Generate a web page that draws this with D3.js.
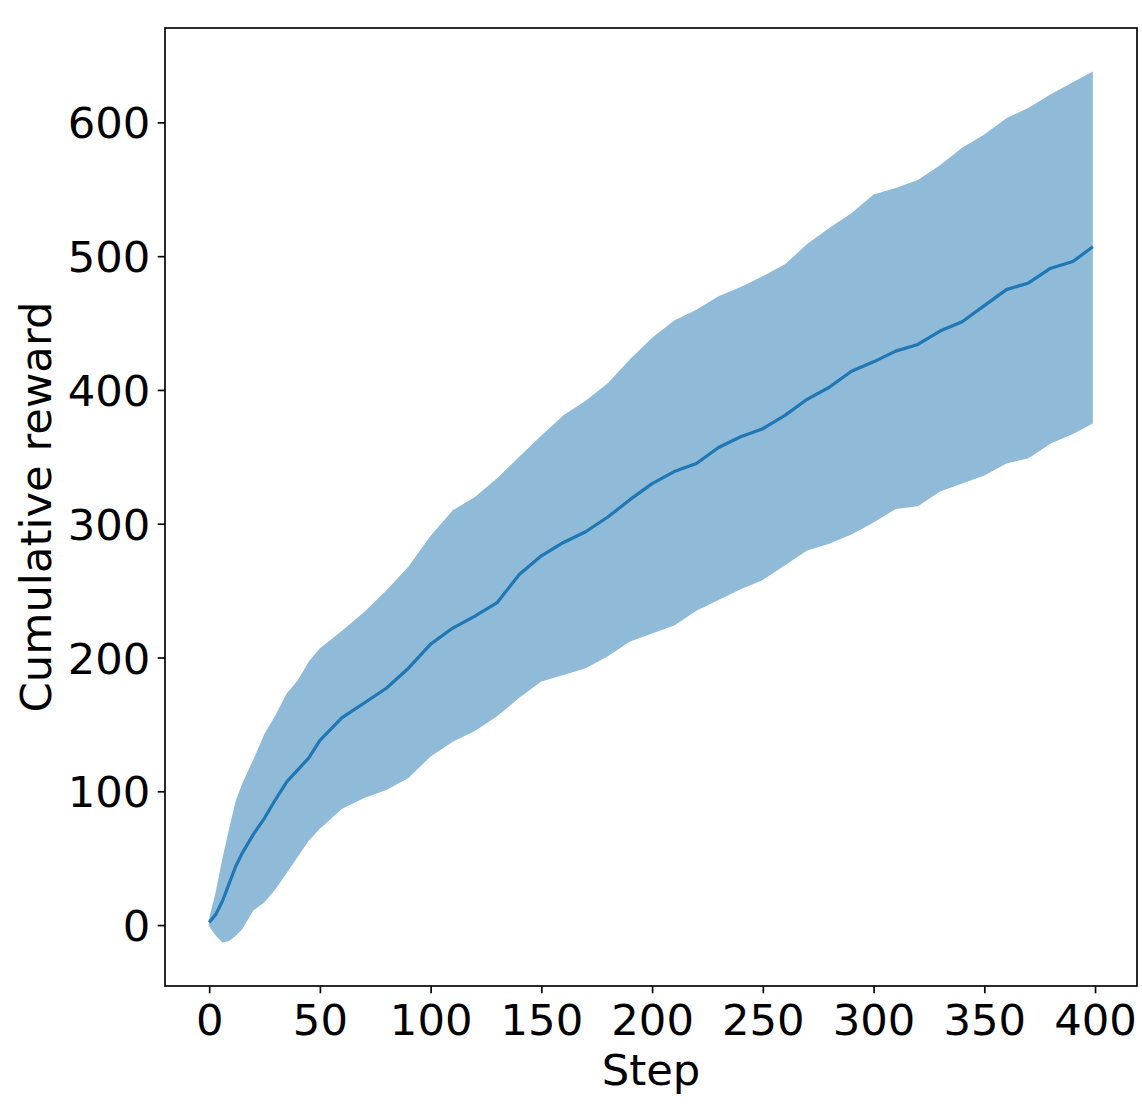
<!DOCTYPE html>
<html>
<head>
<meta charset="utf-8">
<script src="https://cdn.jsdelivr.net/npm/d3@7"></script>
<style>
  html, body { margin: 0; padding: 0; background: #fff; }
  svg { display: block; }
  text { font-family: "DejaVu Sans", sans-serif; fill: #000; }
</style>
</head>
<body>
<svg id="chart" width="1142" height="1110"></svg>
<script>
// ---- data ----
const steps = [0, 3, 6, 9, 12, 15, 20, 25, 30, 35, 40, 45, 50, 60, 70, 80, 90, 100, 110, 120, 130, 140, 150, 160, 170, 180, 190, 200, 210, 220, 230, 240, 250, 260, 270, 280, 290, 300, 310, 320, 330, 340, 350, 360, 370, 380, 390, 399];
const meanReward = [2, 8, 18, 31, 44, 54, 68, 80, 94, 107, 116, 125, 138, 155, 166, 177, 192, 210, 222, 231, 241, 262, 276, 286, 294, 305, 318, 330, 339, 345, 357, 365, 371, 381, 393, 402, 414, 421, 429, 434, 444, 451, 463, 475, 480, 491, 496, 507];
const upperReward = [5, 25, 50, 72, 93, 106, 124, 143, 157, 173, 183, 197, 207, 220, 234, 250, 268, 291, 310, 320, 334, 350, 366, 381, 392, 405, 423, 439, 452, 460, 470, 477, 485, 494, 509, 521, 532, 546, 551, 557, 568, 581, 591, 603, 611, 621, 630, 638];
const lowerReward = [-1, -8, -13, -12, -8, -3, 11, 17, 27, 39, 51, 63, 72, 87, 95, 101, 110, 126, 137, 145, 156, 170, 182, 187, 192, 201, 212, 218, 224, 235, 243, 251, 258, 269, 280, 285, 292, 301, 311, 313, 324, 330, 336, 345, 349, 360, 367, 375];
const xTicks = [0, 50, 100, 150, 200, 250, 300, 350, 400];
const yTicks = [0, 100, 200, 300, 400, 500, 600];
const xLabel = "Step";
const yLabel = "Cumulative reward";

// ---- layout ----
const svg = d3.select("#chart");
const L = 165, R = 1137, T = 28, B = 986;
const fontSize = 43.3, tickLen = 7.3, pad = 7.3, spineW = 1.67;

const data = steps.map((s, i) => ({ s, m: meanReward[i], u: upperReward[i], l: lowerReward[i] }));

const xMin = d3.min(steps), xMax = d3.max(steps);
const yMin = d3.min(lowerReward), yMax = d3.max(upperReward);
const xm = (xMax - xMin) * 0.05, ym = (yMax - yMin) * 0.05;

const x = d3.scaleLinear().domain([xMin - xm, xMax + xm]).range([L, R]);
const y = d3.scaleLinear().domain([yMin - ym, yMax + ym]).range([B, T]);

// band
svg.append("path")
  .datum(data)
  .attr("fill", "#1f77b4")
  .attr("fill-opacity", 0.5)
  .attr("d", d3.area().x(d => x(d.s)).y0(d => y(d.l)).y1(d => y(d.u)));

// mean line
svg.append("path")
  .datum(data)
  .attr("fill", "none")
  .attr("stroke", "#1f77b4")
  .attr("stroke-width", 3.2)
  .attr("stroke-linejoin", "round")
  .attr("d", d3.line().x(d => x(d.s)).y(d => y(d.m)));

// x axis
const xAxis = svg.append("g").attr("transform", `translate(0,${B})`)
  .call(d3.axisBottom(x).tickValues(xTicks).tickSize(tickLen).tickPadding(pad).tickFormat(d3.format("d")));
xAxis.select(".domain").remove();
xAxis.selectAll(".tick line").attr("stroke", "#000").attr("stroke-width", spineW);
xAxis.selectAll(".tick text")
  .attr("font-size", fontSize).attr("font-family", "DejaVu Sans, sans-serif")
  .attr("fill", "#000").attr("dy", null).attr("y", 48.6);

// y axis
const yAxis = svg.append("g").attr("transform", `translate(${L},0)`)
  .call(d3.axisLeft(y).tickValues(yTicks).tickSize(tickLen).tickPadding(pad).tickFormat(d3.format("d")));
yAxis.select(".domain").remove();
yAxis.selectAll(".tick line").attr("stroke", "#000").attr("stroke-width", spineW);
yAxis.selectAll(".tick text")
  .attr("font-size", fontSize).attr("font-family", "DejaVu Sans, sans-serif")
  .attr("fill", "#000").attr("dy", "0.36em").attr("x", -(tickLen + pad));

// frame
svg.append("rect")
  .attr("x", L).attr("y", T).attr("width", R - L).attr("height", B - T)
  .attr("fill", "none").attr("stroke", "#000").attr("stroke-width", spineW);

// axis labels
svg.append("text")
  .attr("x", (L + R) / 2).attr("y", 1084.6)
  .attr("text-anchor", "middle").attr("font-size", fontSize)
  .text(xLabel);

svg.append("text")
  .attr("transform", `translate(51,${(T + B) / 2}) rotate(-90)`)
  .attr("text-anchor", "middle").attr("font-size", fontSize)
  .text(yLabel);
</script>
</body>
</html>
